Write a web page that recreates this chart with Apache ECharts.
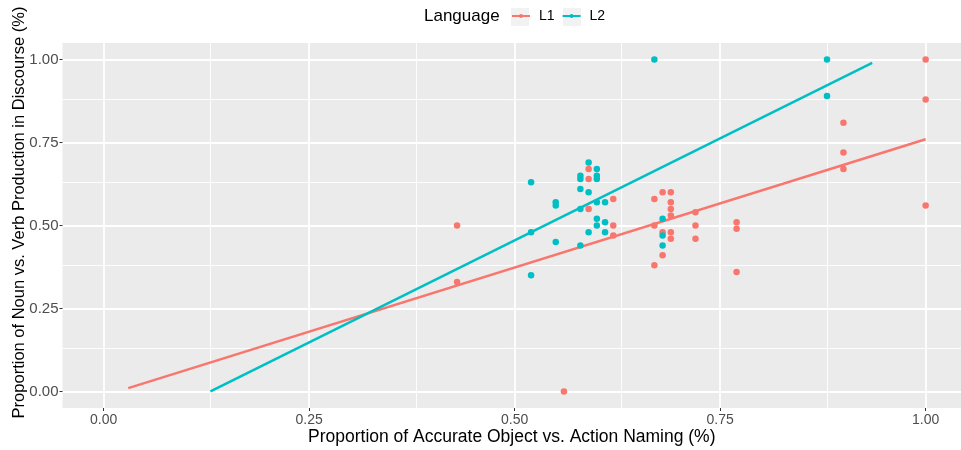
<!DOCTYPE html>
<html>
<head>
<meta charset="utf-8">
<script src="https://cdn.jsdelivr.net/npm/echarts@6/dist/echarts.min.js"></script>
<style>
  html, body { margin: 0; padding: 0; background: #fff; }
  #main { width: 961px; height: 450px; }
</style>
</head>
<body>
<div id="main"></div>
<script>
// 数据：L1 / L2 散点 [命名准确率, 名词/动词比例]
var l1Points = [
    [0.43, 0.50], [0.43, 0.33], [0.56, 0.00],
    [0.59, 0.67], [0.59, 0.64], [0.59, 0.55],
    [0.62, 0.58], [0.62, 0.50], [0.62, 0.47],
    [0.67, 0.58], [0.67, 0.50], [0.67, 0.38],
    [0.68, 0.60], [0.68, 0.48], [0.68, 0.41],
    [0.69, 0.60], [0.69, 0.57], [0.69, 0.55], [0.69, 0.53], [0.69, 0.48], [0.69, 0.46],
    [0.72, 0.54], [0.72, 0.50], [0.72, 0.46],
    [0.77, 0.51], [0.77, 0.49], [0.77, 0.36],
    [0.90, 0.81], [0.90, 0.72], [0.90, 0.67],
    [1.00, 1.00], [1.00, 0.88], [1.00, 0.56]
];
var l2Points = [
    [0.52, 0.63], [0.52, 0.48], [0.52, 0.35],
    [0.55, 0.57], [0.55, 0.56], [0.55, 0.45],
    [0.58, 0.65], [0.58, 0.64], [0.58, 0.61], [0.58, 0.55], [0.58, 0.44],
    [0.59, 0.69], [0.59, 0.60], [0.59, 0.48],
    [0.60, 0.67], [0.60, 0.65], [0.60, 0.64], [0.60, 0.57], [0.60, 0.52], [0.60, 0.50],
    [0.61, 0.57], [0.61, 0.51], [0.61, 0.48],
    [0.67, 1.00],
    [0.68, 0.52], [0.68, 0.47], [0.68, 0.44],
    [0.88, 1.00], [0.88, 0.89]
];
// 回归线（起点、终点）
var lineL1 = [[0.03, 0.01], [1.00, 0.76]];
var lineL2 = [[0.13, 0.00], [0.935, 0.99]];

var groups = ['L1', 'L2'];
var xTicks = [0, 0.25, 0.5, 0.75, 1];
var yTicks = [0, 0.25, 0.5, 0.75, 1];
var xMinor = [0.125, 0.375, 0.625, 0.875];
var yMinor = [0.125, 0.375, 0.625, 0.875];

var red = '#F8766D', teal = '#00BFC4';

var minorLines = [];
xMinor.forEach(function (v) { minorLines.push({ xAxis: v }); });
yMinor.forEach(function (v) { minorLines.push({ yAxis: v }); });

var myChart = echarts.init(document.getElementById('main'));
var option = {
    animation: false,
    textStyle: { fontFamily: 'Liberation Sans' },
    grid: {
        left: 62.5, right: 0, top: 43, bottom: 42,
        containLabel: false, outerBoundsMode: 'none',
        show: true, backgroundColor: '#EBEBEB', borderWidth: 0
    },
    graphic: [
        { type: 'text', left: 424, top: 8, style: { text: 'Language', fontSize: 17, fill: '#000', fontFamily: 'Liberation Sans' } },
        { type: 'rect', shape: { x: 511, y: 8, width: 18, height: 18 }, style: { fill: '#F2F2F2' }, z: -1 },
        { type: 'rect', shape: { x: 563, y: 8, width: 18, height: 18 }, style: { fill: '#F2F2F2' }, z: -1 }
    ],
    legend: {
        data: groups,
        left: 511, top: 9, padding: 0,
        itemWidth: 18, itemHeight: 5, itemGap: 7,
        textStyle: { fontSize: 14, color: '#000', padding: [0, 0, 0, 4] }
    },
    xAxis: {
        type: 'value',
        min: -0.05, max: 1.043,
        name: 'Proportion of Accurate Object vs. Action Naming (%)',
        nameLocation: 'middle', nameGap: 20, nameMoveOverlap: false,
        nameTextStyle: { fontSize: 17.5, color: '#000' },
        axisLine: { show: false, onZero: false },
        axisTick: { show: true, customValues: xTicks, length: 3, lineStyle: { color: '#333' } },
        axisLabel: { customValues: xTicks, fontSize: 14, color: '#4D4D4D', margin: 5,
            formatter: function (v) { return v.toFixed(2); } },
        splitLine: { show: true, lineStyle: { color: '#fff', width: 1.8 } }
    },
    yAxis: {
        type: 'value',
        min: -0.05, max: 1.05,
        name: 'Proportion of Noun vs. Verb Production in Discourse (%)',
        nameLocation: 'middle', nameGap: 35, nameRotate: 90, nameMoveOverlap: false,
        nameTextStyle: { fontSize: 16.5, color: '#000', padding: [0, 0, 0, 26] },
        axisLine: { show: false, onZero: false },
        axisTick: { show: true, customValues: yTicks, length: 3, lineStyle: { color: '#333' } },
        axisLabel: { customValues: yTicks, fontSize: 15, color: '#4D4D4D', margin: 4,
            formatter: function (v) { return v.toFixed(2); } },
        splitLine: { show: true, lineStyle: { color: '#fff', width: 1.8 } }
    },
    series: [
        {
            name: 'L1', type: 'line', data: lineL1, showSymbol: false, symbol: 'circle',
            lineStyle: { color: red, width: 2.5 }, itemStyle: { color: red }, z: 3
        },
        {
            name: 'L2', type: 'line', data: lineL2, showSymbol: false, symbol: 'circle',
            lineStyle: { color: teal, width: 2.5 }, itemStyle: { color: teal }, z: 3
        },
        {
            name: 'L1', type: 'scatter', data: l1Points, symbolSize: 6.5,
            itemStyle: { color: red, opacity: 1 }, z: 4
        },
        {
            name: 'L2', type: 'scatter', data: l2Points, symbolSize: 6.5,
            itemStyle: { color: teal, opacity: 1 }, z: 4
        },
        {
            name: 'minor', type: 'scatter', data: [], z: 1, silent: true,
            markLine: {
                silent: true, symbol: 'none', z: 1, label: { show: false },
                lineStyle: { color: '#fff', width: 0.9, type: 'solid' },
                data: minorLines
            }
        }
    ]
};
myChart.setOption(option);
</script>
</body>
</html>
